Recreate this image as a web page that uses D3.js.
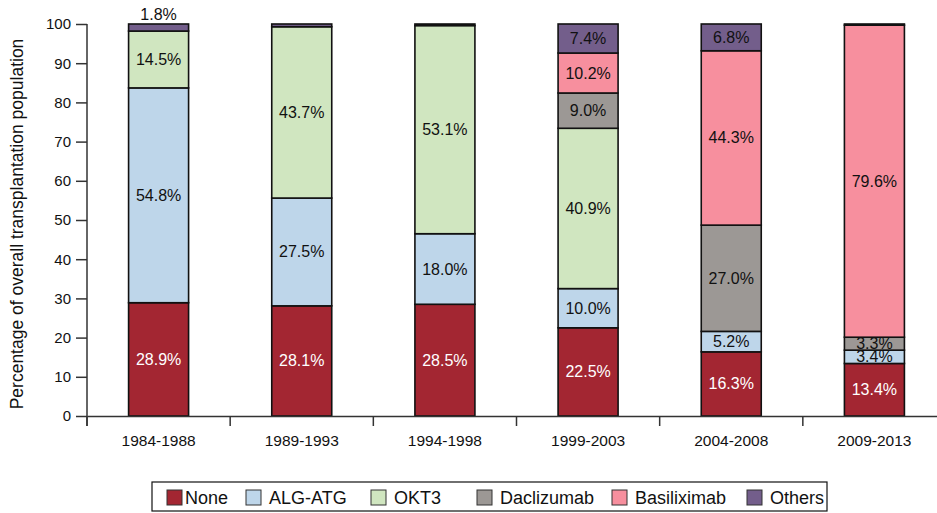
<!DOCTYPE html>
<html>
<head>
<meta charset="utf-8">
<script src="https://cdn.jsdelivr.net/npm/d3@7"></script>
<style>
  body { margin: 0; background: #fff; }
  text { font-family: "Liberation Sans", Arial, sans-serif; }
</style>
</head>
<body>
<div id="chart"></div>
<script>
const FRAME_WIDTH = 937;
const FRAME_HEIGHT = 513;

// data
const PERIODS = ["1984-1988", "1989-1993", "1994-1998", "1999-2003", "2004-2008", "2009-2013"];
const SERIES = ["None", "ALG-ATG", "OKT3", "Daclizumab", "Basiliximab", "Others"];
const NONE = [28.9, 28.1, 28.5, 22.5, 16.3, 13.4];
const ALG_ATG = [54.8, 27.5, 18.0, 10.0, 5.2, 3.4];
const OKT3 = [14.5, 43.7, 53.1, 40.9, 0, 0];
const DACLIZUMAB = [0, 0, 0, 9.0, 27.0, 3.3];
const BASILIXIMAB = [0, 0, 0, 10.2, 44.3, 79.6];
const OTHERS = [1.8, 0.7, 0.4, 7.4, 6.8, 0.3];
const Y_TICKS = [0, 10, 20, 30, 40, 50, 60, 70, 80, 90, 100];

const COLORS = ["#a32632", "#bed6ea", "#d0e6c0", "#9c9895", "#f78f9e", "#735e8b"];
const LABEL_COLORS = ["#ffffff", "#111", "#111", "#111", "#111", "#111"];

const ALL = [NONE, ALG_ATG, OKT3, DACLIZUMAB, BASILIXIMAB, OTHERS];
const rows = PERIODS.map((p, i) => {
  let r = {period: p};
  SERIES.forEach((s, j) => { r[s] = ALL[j][i]; });
  return r;
});

const stack = d3.stack().keys(SERIES).offset(d3.stackOffsetExpand);
const layers = stack(rows);

const X_SCALE = d3.scaleBand()
  .domain(PERIODS)
  .range([87, 946]);

const BAR_W = 60;

const Y_SCALE = d3.scaleLinear()
  .domain([0, 1])
  .range([416, 24]);

const svg = d3.select("#chart")
  .append("svg")
    .attr("width", FRAME_WIDTH)
    .attr("height", FRAME_HEIGHT);

// bars
const groups = svg.selectAll("g.layer")
  .data(layers)
  .enter()
  .append("g")
    .attr("class", "layer")
    .attr("fill", (d, i) => COLORS[i]);

groups.selectAll("rect")
  .data(d => d)
  .enter()
  .append("rect")
    .filter(d => d[1] - d[0] > 0)
    .attr("x", d => X_SCALE(d.data.period) + (X_SCALE.bandwidth() - BAR_W) / 2)
    .attr("y", d => Y_SCALE(d[1]))
    .attr("width", BAR_W)
    .attr("height", d => Y_SCALE(d[0]) - Y_SCALE(d[1]))
    .attr("stroke", "#111")
    .attr("stroke-width", 1.6);

// labels
layers.forEach((layer, i) => {
  layer.forEach((d, j) => {
    const v = ALL[i][j];
    if (v < 1) return;
    const y0 = Y_SCALE(d[0]), y1 = Y_SCALE(d[1]);
    let ty = (y0 + y1) / 2 + 5.5;
    if (y0 - y1 < 10) ty = y1 - 4;
    svg.append("text")
      .attr("x", X_SCALE(d.data.period) + X_SCALE.bandwidth() / 2)
      .attr("y", ty)
      .attr("text-anchor", "middle")
      .attr("font-size", "16px")
      .attr("fill", LABEL_COLORS[i])
      .text(v.toFixed(1) + "%");
  });
});

// y axis
const yAxis = svg.append("g")
  .attr("transform", "translate(87,0)")
  .call(d3.axisLeft(Y_SCALE).tickValues(Y_TICKS.map(t => t / 100))
    .tickFormat(d => Math.round(d * 100)).tickSize(11).tickPadding(5));
yAxis.select(".domain").remove();
yAxis.selectAll("line").attr("stroke", "#333").attr("stroke-width", 1.5);
yAxis.selectAll("text").attr("font-size", "15px").attr("fill", "#111")
  .attr("font-family", "Liberation Sans, Arial, sans-serif");
svg.append("line")
  .attr("x1", 87).attr("x2", 87)
  .attr("y1", 24).attr("y2", 426)
  .attr("stroke", "#333").attr("stroke-width", 1.5);

// x axis
const xAxis = svg.append("g")
  .attr("transform", "translate(0,416)")
  .call(d3.axisBottom(X_SCALE).tickSize(0).tickPadding(19));
xAxis.select(".domain").attr("stroke", "#333").attr("stroke-width", 1.5);
xAxis.selectAll("text").attr("font-size", "15.5px").attr("fill", "#111")
  .attr("font-family", "Liberation Sans, Arial, sans-serif");
svg.selectAll("line.sep")
  .data(PERIODS)
  .enter()
  .append("line")
    .attr("class", "sep")
    .attr("x1", d => X_SCALE(d)).attr("x2", d => X_SCALE(d))
    .attr("y1", 416).attr("y2", 426)
    .attr("stroke", "#333").attr("stroke-width", 1.5);

// y title
svg.append("text")
  .attr("transform", "translate(23," + 224 + ") rotate(-90)")
  .attr("text-anchor", "middle")
  .attr("font-size", "17.5px")
  .attr("fill", "#111")
  .text("Percentage of overall transplantation population");

// legend
const LEGEND_X = [167, 246, 371, 477, 612, 747];
svg.append("rect")
  .attr("x", 152).attr("y", 482)
  .attr("width", 675).attr("height", 29)
  .attr("fill", "none").attr("stroke", "#111").attr("stroke-width", 1.2);

const leg = svg.selectAll("g.leg")
  .data(SERIES)
  .enter()
  .append("g")
    .attr("class", "leg")
    .attr("transform", (d, i) => "translate(" + LEGEND_X[i] + ",490)");
leg.append("rect")
  .attr("width", 15).attr("height", 15)
  .attr("fill", (d, i) => COLORS[i])
  .attr("stroke", "#333").attr("stroke-width", 1);
leg.append("text")
  .attr("x", (d, i) => i == 0 ? 18 : 23)
  .attr("y", 14)
  .attr("font-size", "18px")
  .attr("fill", "#111")
  .text(d => d);
</script>
</body>
</html>
